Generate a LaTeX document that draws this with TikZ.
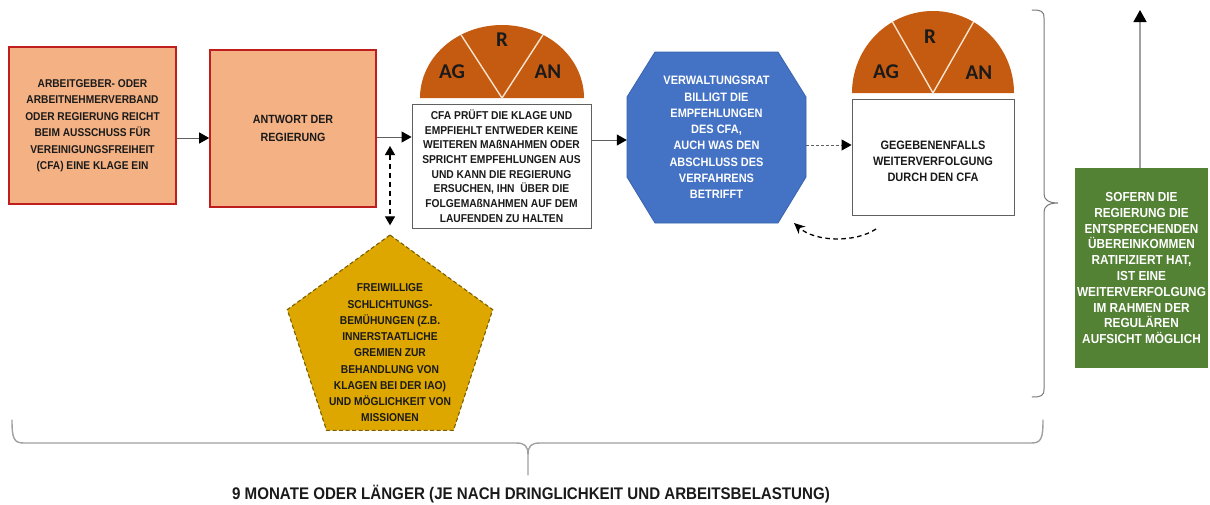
\documentclass[tikz,border=0pt]{standalone}
\usepackage{fontspec}
\setmainfont{Liberation Sans}[FakeStretch=0.9]
\newfontfamily\calsf{Carlito}
\usetikzlibrary{shapes.geometric,arrows.meta,calc}
\definecolor{salmon}{HTML}{F4B183}
\definecolor{boxred}{RGB}{190,30,30}
\definecolor{semorange}{HTML}{C55A11}
\definecolor{semline}{HTML}{FBE3CC}
\definecolor{octblue}{HTML}{4472C4}
\definecolor{octedge}{HTML}{3A63AE}
\definecolor{gold}{HTML}{DDA700}
\definecolor{goldedge}{HTML}{7A6000}
\definecolor{okgreen}{HTML}{548235}
\definecolor{textgray}{HTML}{1A1A1A}
\definecolor{linegray}{HTML}{606060}
\definecolor{bracegray}{HTML}{A0A0A0}
\begin{document}
\begin{tikzpicture}[x=1pt,y=-1pt,
  bodytext/.style={align=center, text=textgray, font=\bfseries\fontsize{11.3}{16.5}\selectfont},
  orangebox/.style={rectangle, fill=salmon, draw=boxred, line width=1.6pt, inner sep=2pt},
  whitebox/.style={rectangle, fill=white, draw=linegray, line width=0.9pt, inner sep=2pt},
  flow/.style={draw=linegray, line width=1pt, -{Triangle[length=10pt,width=11pt,color=black]}},
  dashflow/.style={draw=linegray, line width=1pt, dash pattern=on 3pt off 2pt, -{Triangle[length=10pt,width=11pt,color=black]}},
  semfill/.style={fill=semorange},
  semdiv/.style={draw=semline, line width=1.4pt},
  semlbl/.style={text=textgray, font=\calsf\bfseries\fontsize{21}{21}\selectfont, inner sep=0pt},
  bracepath/.style={draw=bracegray, line width=1.4pt, line cap=round, line join=round}
]
\useasboundingbox (0,0) rectangle (1210,504);

% main flow boxes
\node[orangebox, minimum width=167pt, minimum height=157pt, bodytext] (n1) at (92.5,125.5)
  {ARBEITGEBER- ODER\\ARBEITNEHMERVERBAND\\ODER REGIERUNG REICHT\\BEIM AUSSCHUSS FÜR\\VEREINIGUNGSFREIHEIT\\(CFA) EINE KLAGE EIN};
\node[orangebox, minimum width=166pt, minimum height=157pt, bodytext, font=\bfseries\fontsize{11.9}{18}\selectfont] (n2) at (293,128.5)
  {ANTWORT DER\\REGIERUNG};
\node[whitebox, minimum width=179pt, minimum height=124pt, bodytext, font=\bfseries\fontsize{11.4}{14.7}\selectfont] (n3) at (501.5,166)
  {CFA PRÜFT DIE KLAGE UND\\EMPFIEHLT ENTWEDER KEINE\\WEITEREN MAßNAHMEN ODER\\SPRICHT EMPFEHLUNGEN AUS\\UND KANN DIE REGIERUNG\\ERSUCHEN, IHN \ ÜBER DIE\\FOLGEMAßNAHMEN AUF DEM\\LAUFENDEN ZU HALTEN};

% octagon for the governing body
\coordinate (octc) at (716.5,137.5);
\filldraw[fill=octblue, draw=octedge, line width=0.8pt]
  ($(octc)+(-61.5,-85.5)$) -- ($(octc)+(61.5,-85.5)$) -- ($(octc)+(89.5,-40.5)$) --
  ($(octc)+(89.5,39.5)$) -- ($(octc)+(61.5,85.5)$) -- ($(octc)+(-61.5,85.5)$) --
  ($(octc)+(-89.5,39.5)$) -- ($(octc)+(-89.5,-40.5)$) -- cycle;
\node[minimum width=179pt, minimum height=171pt, inner sep=0pt, align=center, text=white,
  font=\bfseries\fontsize{12.2}{16.3}\selectfont] (oct) at (octc)
  {VERWALTUNGSRAT\\BILLIGT DIE\\EMPFEHLUNGEN\\DES CFA,\\AUCH WAS DEN\\ABSCHLUSS DES\\VERFAHRENS\\BETRIFFT};

% follow-up box
\node[whitebox, minimum width=162pt, minimum height=116pt] (box4) at (933,157) {};
\node[bodytext, font=\bfseries\fontsize{12.2}{16}\selectfont, inner sep=0pt] (box4txt) at (933,161)
  {GEGEBENENFALLS\\WEITERVERFOLGUNG\\DURCH DEN CFA};

% half discs with the three groups
\fill[semfill] plot[domain=0:180, samples=91] ({502+82*cos(\x)},{98-73*sin(\x)}) -- cycle;
\draw[semdiv] (502,98) -- ({502+82*cos(120)},{98-73*sin(120)});
\draw[semdiv] (502,98) -- ({502+82*cos(60)},{98-73*sin(60)});
\node[semlbl] (ag1) at (452,72) {AG};
\node[semlbl] (r1) at (502,40) {R};
\node[semlbl] (an1) at (548,72) {AN};

\fill[semfill] plot[domain=0:180, samples=91] ({933+81*cos(\x)},{93-82*sin(\x)}) -- cycle;
\draw[semdiv] (933,93) -- ({933+81*cos(120)},{93-82*sin(120)});
\draw[semdiv] (933,93) -- ({933+81*cos(60)},{93-82*sin(60)});
\node[semlbl] (ag2) at (886,72) {AG};
\node[semlbl] (r2) at (930,37) {R};
\node[semlbl] (an2) at (979,73) {AN};

% voluntary conciliation
\node[regular polygon, regular polygon sides=5, minimum size=216pt, inner sep=0pt,
  fill=gold, draw=goldedge, line width=1.1pt, dash pattern=on 4pt off 2.5pt] (pent) at (390,343) {};
\node[bodytext, font=\bfseries\fontsize{11.4}{16.25}\selectfont, inner sep=0pt] (penttxt) at (390,353)
  {FREIWILLIGE\\SCHLICHTUNGS-\\BEMÜHUNGEN (Z.B.\\INNERSTAATLICHE\\GREMIEN ZUR\\BEHANDLUNG VON\\KLAGEN BEI DER IAO)\\UND MÖGLICHKEIT VON\\MISSIONEN};

% regular supervision
\node[rectangle, fill=okgreen, minimum width=133pt, minimum height=200pt, inner sep=0pt,
  align=center, text=white, font=\bfseries\fontsize{13.1}{15.8}\selectfont] (green) at (1141.5,268)
  {SOFERN DIE\\REGIERUNG DIE\\ENTSPRECHENDEN\\ÜBEREINKOMMEN\\RATIFIZIERT HAT,\\IST EINE\\WEITERVERFOLGUNG\\IM RAHMEN DER\\REGULÄREN\\AUFSICHT MÖGLICH};

% connectors
\coordinate (rowA) at (0,138);
\coordinate (rowB) at (0,137);
\coordinate (rowC) at (0,140);
\coordinate (rowD) at (0,145);
\draw[flow] (n1.east |- rowA) -- (n2.west |- rowA);
\draw[flow] (n2.east |- rowB) -- (n3.west |- rowB);
\draw[flow] (n3.east |- rowC) -- (oct.west |- rowC);
\draw[dashflow] (oct.east |- rowD) -- (box4.west |- rowD);

\coordinate (vtop) at (390,146);
\draw[line width=1.3pt, dash pattern=on 5pt off 4pt,
  {Triangle[length=9pt,width=10pt]}-{Triangle[length=9pt,width=10pt]}]
  (vtop) -- ([yshift=9pt]pent.corner 1);

\coordinate (loopstart) at (876,229);
\coordinate (loopend) at (794,223);
\draw[line width=1.3pt, dash pattern=on 4.5pt off 3.5pt, -{Stealth[length=11pt,width=10pt]}]
  (loopstart) .. controls (855,243) and (815,242) .. (loopend);

\coordinate (uptip) at (1140,10);
\draw[draw=bracegray, line width=1.5pt, -{Triangle[length=12pt,width=13pt,color=black]}]
  (green.north -| uptip) -- (uptip);

% braces
\draw[draw=linegray!85, line width=1pt, line cap=round]
  (1032,10) .. controls (1041,10) and (1044,11) .. (1044,18) -- (1044,194)
  .. controls (1044,200) and (1049,203) .. (1058,203)
  .. controls (1049,203) and (1044,206) .. (1044,212) -- (1044,389)
  .. controls (1044,396) and (1041,397) .. (1032,397);

\draw[bracepath]
  (12,420) .. controls (12,439) and (14,443) .. (24,443) -- (516,443)
  .. controls (525,443) and (528,446) .. (528,455) -- (528,475)
  (528,455) .. controls (528,446) and (531,443) .. (540,443) -- (1031,443)
  .. controls (1041,443) and (1043,439) .. (1043,420);

\node[anchor=base, inner sep=0pt, text=textgray, font=\bfseries\fontsize{16.8}{16.8}\selectfont] (span) at (531,499.5)
  {9 MONATE ODER LÄNGER (JE NACH DRINGLICHKEIT UND ARBEITSBELASTUNG)};
\end{tikzpicture}
\end{document}
